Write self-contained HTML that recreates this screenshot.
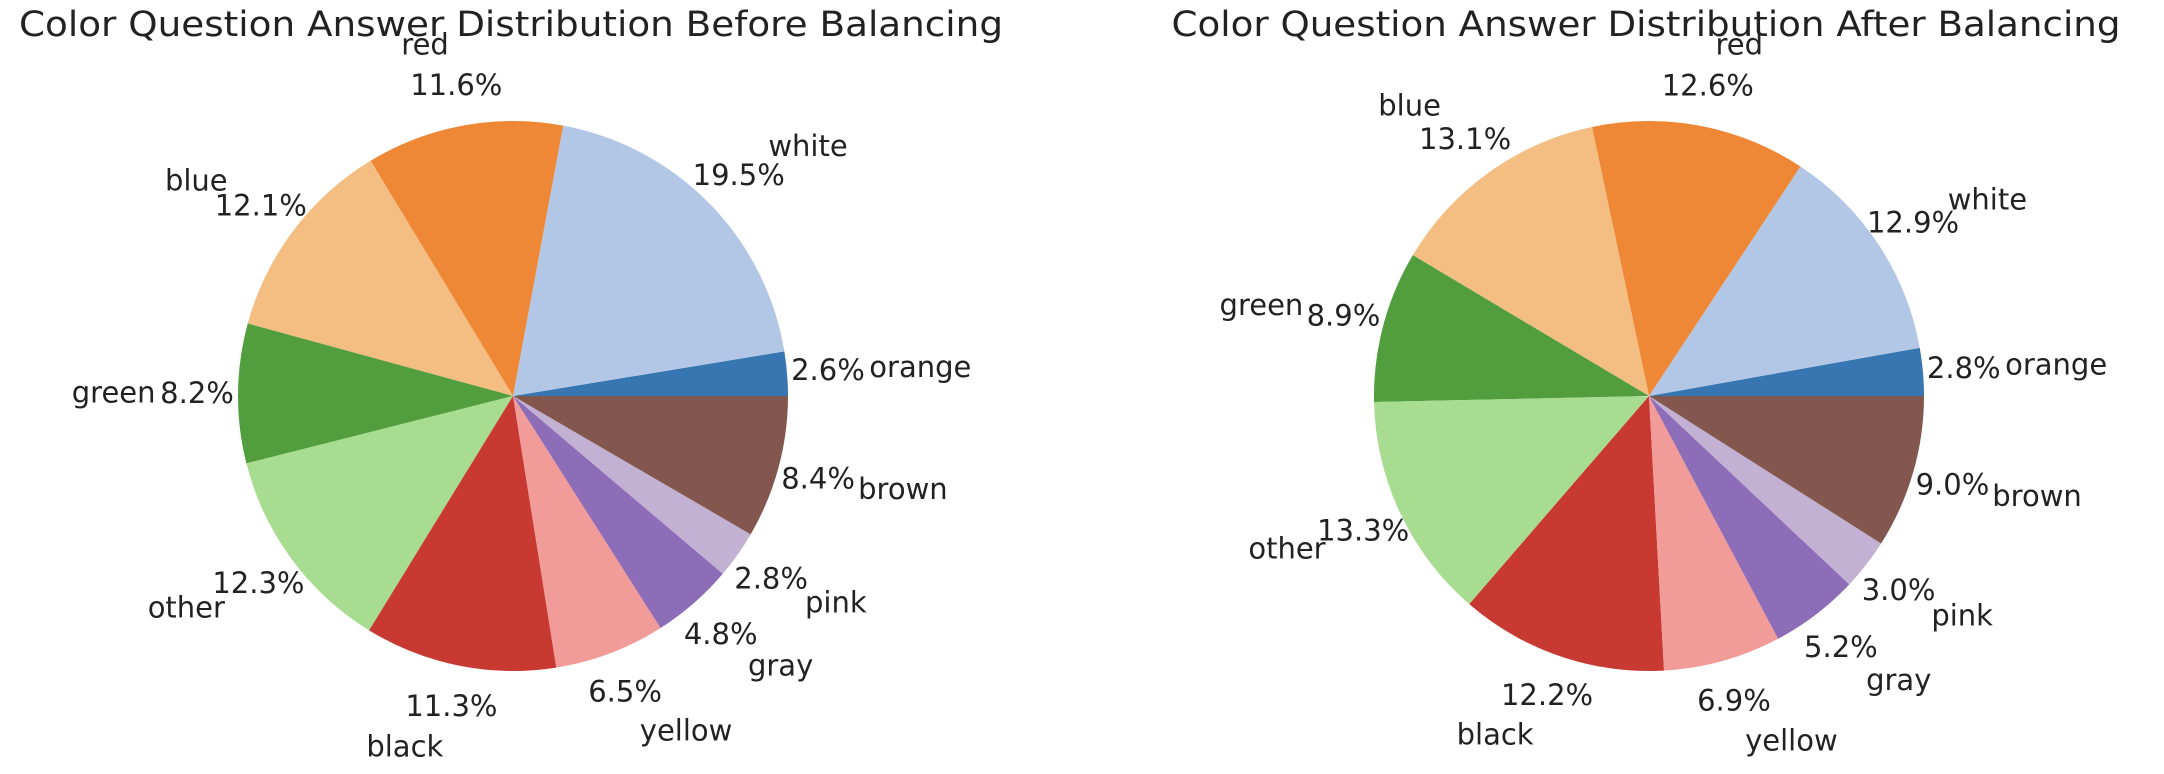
<!DOCTYPE html>
<html><head><meta charset="utf-8"><style>
html,body{margin:0;padding:0;background:#fff;}
svg{display:block;}
text{font-family:"DejaVu Sans","Liberation Sans",sans-serif;fill:#222;}
.t{font-size:35px;}
.l{font-size:29px;dominant-baseline:central;}
</style></head><body>
<svg width="2164" height="774" viewBox="0 0 2164 774" xmlns="http://www.w3.org/2000/svg">
<rect width="2164" height="774" fill="#fff"/>
<text class="t" x="511" y="36" text-anchor="middle" textLength="984" lengthAdjust="spacingAndGlyphs">Color Question Answer Distribution Before Balancing</text>
<text class="t" x="1646" y="36" text-anchor="middle" textLength="949" lengthAdjust="spacingAndGlyphs">Color Question Answer Distribution After Balancing</text>

<g transform="translate(513,396) scale(1,-1)" fill="none" stroke-width="275">
<circle r="137.5" pathLength="100.1" stroke="#3776b0" stroke-dasharray="2.6 200" stroke-dashoffset="0"/>
<circle r="137.5" pathLength="100.1" stroke="#b2c7e6" stroke-dasharray="19.5 200" stroke-dashoffset="-2.6"/>
<circle r="137.5" pathLength="100.1" stroke="#ef8836" stroke-dasharray="11.6 200" stroke-dashoffset="-22.1"/>
<circle r="137.5" pathLength="100.1" stroke="#f4bd82" stroke-dasharray="12.1 200" stroke-dashoffset="-33.7"/>
<circle r="137.5" pathLength="100.1" stroke="#529e3e" stroke-dasharray="8.2 200" stroke-dashoffset="-45.8"/>
<circle r="137.5" pathLength="100.1" stroke="#a8dc90" stroke-dasharray="12.3 200" stroke-dashoffset="-54.0"/>
<circle r="137.5" pathLength="100.1" stroke="#c83a31" stroke-dasharray="11.3 200" stroke-dashoffset="-66.3"/>
<circle r="137.5" pathLength="100.1" stroke="#f19c98" stroke-dasharray="6.5 200" stroke-dashoffset="-77.6"/>
<circle r="137.5" pathLength="100.1" stroke="#8d6cb8" stroke-dasharray="4.8 200" stroke-dashoffset="-84.1"/>
<circle r="137.5" pathLength="100.1" stroke="#c2b1d3" stroke-dasharray="2.8 200" stroke-dashoffset="-88.9"/>
<circle r="137.5" pathLength="100.1" stroke="#83574d" stroke-dasharray="8.4 200" stroke-dashoffset="-91.7"/>
</g>
<g transform="translate(513,396)">
<g transform="rotate(-4.68) translate(357.5,0) rotate(4.68)"><text class="l" text-anchor="start">orange</text></g>
<g transform="rotate(-4.68) translate(316,0) rotate(4.68)"><text class="l" text-anchor="middle">2.6%</text></g>
<g transform="rotate(-44.42) translate(357.5,0) rotate(44.42)"><text class="l" text-anchor="start">white</text></g>
<g transform="rotate(-44.42) translate(316,0) rotate(44.42)"><text class="l" text-anchor="middle">19.5%</text></g>
<g transform="rotate(-100.34) translate(357.5,0) rotate(100.34)"><text class="l" text-anchor="end">red</text></g>
<g transform="rotate(-100.34) translate(316,0) rotate(100.34)"><text class="l" text-anchor="middle">11.6%</text></g>
<g transform="rotate(-142.96) translate(357.5,0) rotate(142.96)"><text class="l" text-anchor="end">blue</text></g>
<g transform="rotate(-142.96) translate(316,0) rotate(142.96)"><text class="l" text-anchor="middle">12.1%</text></g>
<g transform="rotate(-179.46) translate(357.5,0) rotate(179.46)"><text class="l" text-anchor="end">green</text></g>
<g transform="rotate(-179.46) translate(316,0) rotate(179.46)"><text class="l" text-anchor="middle">8.2%</text></g>
<g transform="rotate(-216.32) translate(357.5,0) rotate(216.32)"><text class="l" text-anchor="end">other</text></g>
<g transform="rotate(-216.32) translate(316,0) rotate(216.32)"><text class="l" text-anchor="middle">12.3%</text></g>
<g transform="rotate(-258.76) translate(357.5,0) rotate(258.76)"><text class="l" text-anchor="end">black</text></g>
<g transform="rotate(-258.76) translate(316,0) rotate(258.76)"><text class="l" text-anchor="middle">11.3%</text></g>
<g transform="rotate(-290.77) translate(357.5,0) rotate(290.77)"><text class="l" text-anchor="start">yellow</text></g>
<g transform="rotate(-290.77) translate(316,0) rotate(290.77)"><text class="l" text-anchor="middle">6.5%</text></g>
<g transform="rotate(-311.09) translate(357.5,0) rotate(311.09)"><text class="l" text-anchor="start">gray</text></g>
<g transform="rotate(-311.09) translate(316,0) rotate(311.09)"><text class="l" text-anchor="middle">4.8%</text></g>
<g transform="rotate(-324.76) translate(357.5,0) rotate(324.76)"><text class="l" text-anchor="start">pink</text></g>
<g transform="rotate(-324.76) translate(316,0) rotate(324.76)"><text class="l" text-anchor="middle">2.8%</text></g>
<g transform="rotate(-344.89) translate(357.5,0) rotate(344.89)"><text class="l" text-anchor="start">brown</text></g>
<g transform="rotate(-344.89) translate(316,0) rotate(344.89)"><text class="l" text-anchor="middle">8.4%</text></g>
</g>

<g transform="translate(1649,396) scale(1,-1)" fill="none" stroke-width="275">
<circle r="137.5" pathLength="99.9" stroke="#3776b0" stroke-dasharray="2.8 200" stroke-dashoffset="0"/>
<circle r="137.5" pathLength="99.9" stroke="#b2c7e6" stroke-dasharray="12.9 200" stroke-dashoffset="-2.8"/>
<circle r="137.5" pathLength="99.9" stroke="#ef8836" stroke-dasharray="12.6 200" stroke-dashoffset="-15.7"/>
<circle r="137.5" pathLength="99.9" stroke="#f4bd82" stroke-dasharray="13.1 200" stroke-dashoffset="-28.3"/>
<circle r="137.5" pathLength="99.9" stroke="#529e3e" stroke-dasharray="8.9 200" stroke-dashoffset="-41.4"/>
<circle r="137.5" pathLength="99.9" stroke="#a8dc90" stroke-dasharray="13.3 200" stroke-dashoffset="-50.3"/>
<circle r="137.5" pathLength="99.9" stroke="#c83a31" stroke-dasharray="12.2 200" stroke-dashoffset="-63.6"/>
<circle r="137.5" pathLength="99.9" stroke="#f19c98" stroke-dasharray="6.9 200" stroke-dashoffset="-75.8"/>
<circle r="137.5" pathLength="99.9" stroke="#8d6cb8" stroke-dasharray="5.2 200" stroke-dashoffset="-82.7"/>
<circle r="137.5" pathLength="99.9" stroke="#c2b1d3" stroke-dasharray="3.0 200" stroke-dashoffset="-87.9"/>
<circle r="137.5" pathLength="99.9" stroke="#83574d" stroke-dasharray="9.0 200" stroke-dashoffset="-90.9"/>
</g>
<g transform="translate(1649,396)">
<g transform="rotate(-5.05) translate(357.5,0) rotate(5.05)"><text class="l" text-anchor="start">orange</text></g>
<g transform="rotate(-5.05) translate(316,0) rotate(5.05)"><text class="l" text-anchor="middle">2.8%</text></g>
<g transform="rotate(-33.33) translate(357.5,0) rotate(33.33)"><text class="l" text-anchor="start">white</text></g>
<g transform="rotate(-33.33) translate(316,0) rotate(33.33)"><text class="l" text-anchor="middle">12.9%</text></g>
<g transform="rotate(-79.28) translate(357.5,0) rotate(79.28)"><text class="l" text-anchor="start">red</text></g>
<g transform="rotate(-79.28) translate(316,0) rotate(79.28)"><text class="l" text-anchor="middle">12.6%</text></g>
<g transform="rotate(-125.59) translate(357.5,0) rotate(125.59)"><text class="l" text-anchor="end">blue</text></g>
<g transform="rotate(-125.59) translate(316,0) rotate(125.59)"><text class="l" text-anchor="middle">13.1%</text></g>
<g transform="rotate(-165.23) translate(357.5,0) rotate(165.23)"><text class="l" text-anchor="end">green</text></g>
<g transform="rotate(-165.23) translate(316,0) rotate(165.23)"><text class="l" text-anchor="middle">8.9%</text></g>
<g transform="rotate(-205.23) translate(357.5,0) rotate(205.23)"><text class="l" text-anchor="end">other</text></g>
<g transform="rotate(-205.23) translate(316,0) rotate(205.23)"><text class="l" text-anchor="middle">13.3%</text></g>
<g transform="rotate(-251.17) translate(357.5,0) rotate(251.17)"><text class="l" text-anchor="end">black</text></g>
<g transform="rotate(-251.17) translate(316,0) rotate(251.17)"><text class="l" text-anchor="middle">12.2%</text></g>
<g transform="rotate(-285.59) translate(357.5,0) rotate(285.59)"><text class="l" text-anchor="start">yellow</text></g>
<g transform="rotate(-285.59) translate(316,0) rotate(285.59)"><text class="l" text-anchor="middle">6.9%</text></g>
<g transform="rotate(-307.39) translate(357.5,0) rotate(307.39)"><text class="l" text-anchor="start">gray</text></g>
<g transform="rotate(-307.39) translate(316,0) rotate(307.39)"><text class="l" text-anchor="middle">5.2%</text></g>
<g transform="rotate(-322.16) translate(357.5,0) rotate(322.16)"><text class="l" text-anchor="start">pink</text></g>
<g transform="rotate(-322.16) translate(316,0) rotate(322.16)"><text class="l" text-anchor="middle">3.0%</text></g>
<g transform="rotate(-343.78) translate(357.5,0) rotate(343.78)"><text class="l" text-anchor="start">brown</text></g>
<g transform="rotate(-343.78) translate(316,0) rotate(343.78)"><text class="l" text-anchor="middle">9.0%</text></g>
</g>
</svg>
</body></html>
